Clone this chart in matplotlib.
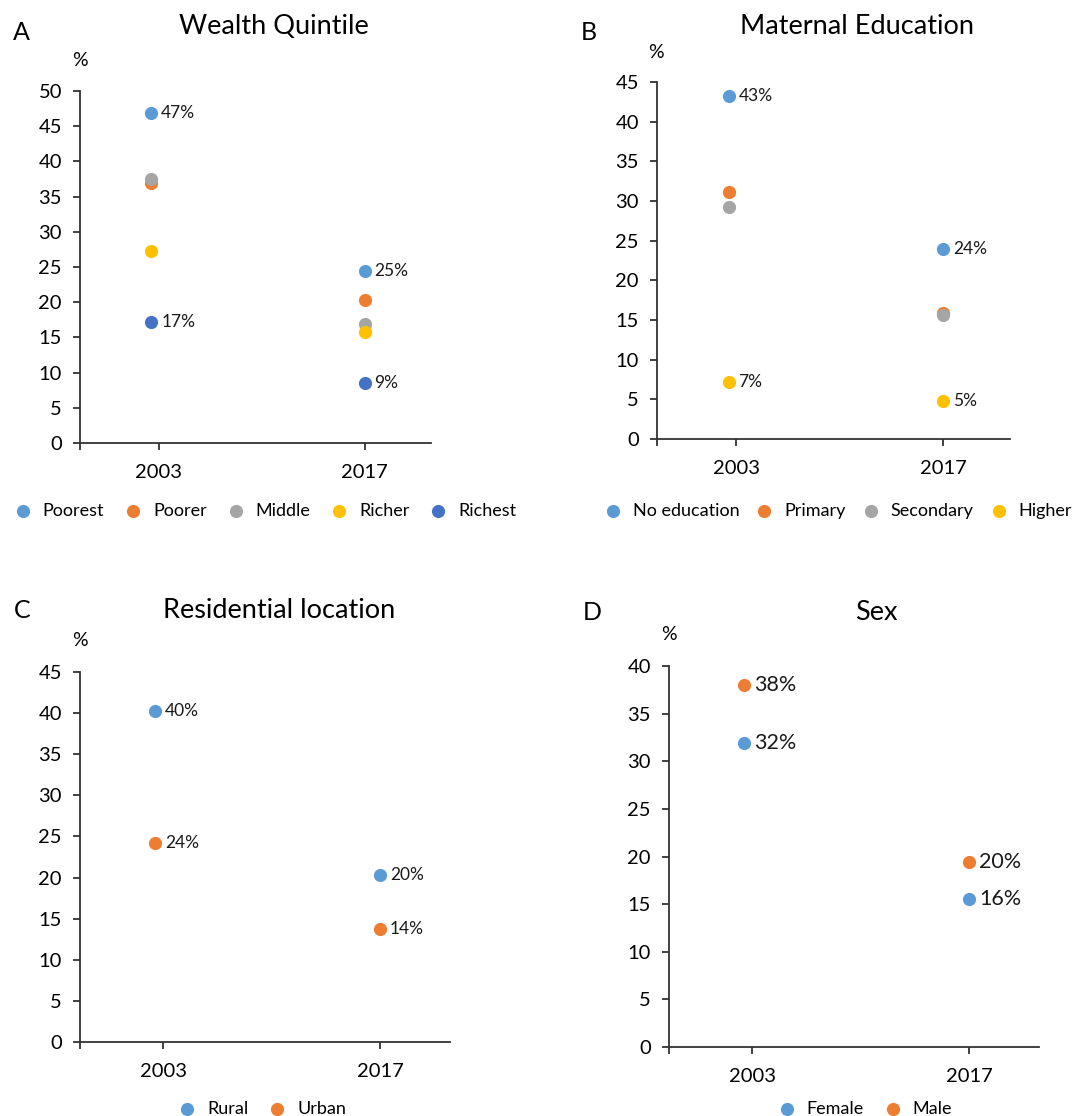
import matplotlib
matplotlib.use('Agg')
import matplotlib.pyplot as plt

plt.rcParams['font.family'] = ['Lato', 'DejaVu Sans']

W, H = 1072, 1116

years = ['2003', '2017']

# A - wealth quintile
wealth_groups = ['Poorest', 'Poorer', 'Middle', 'Richer', 'Richest']
wealth_2003 = [46.9, 37.0, 37.5, 27.3, 17.2]
wealth_2017 = [24.5, 20.35, 16.9, 15.75, 8.5]
wealth_lab_2003 = ['47%', '', '', '', '17%']
wealth_lab_2017 = ['25%', '', '', '', '9%']

# B - maternal education
edu_groups = ['No education', 'Primary', 'Secondary', 'Higher']
edu_2003 = [43.2, 31.1, 29.3, 7.2]
edu_2017 = [24.0, 15.9, 15.6, 4.8]
edu_lab_2003 = ['43%', '', '', '7%']
edu_lab_2017 = ['24%', '', '', '5%']

# C - residential location
loc_groups = ['Rural', 'Urban']
loc_2003 = [40.25, 24.25]
loc_2017 = [20.3, 13.8]
loc_lab_2003 = ['40%', '24%']
loc_lab_2017 = ['20%', '14%']

# D - sex
sex_groups = ['Female', 'Male']
sex_2003 = [31.9, 38.0]
sex_2017 = [15.5, 19.4]
sex_lab_2003 = ['32%', '38%']
sex_lab_2017 = ['16%', '20%']

blue = '#5B9BD5'
orange = '#ED7D31'
grey = '#A5A5A5'
gold = '#FFC000'
navy = '#4472C4'

fig = plt.figure(figsize=(W / 100, H / 100), dpi=100)


def fx(px):
    return px / W


def fy(py):
    return 1 - py / H


def panel(box, groups, v03, v17, lab03, lab17, colors, ymax, letter, letter_xy,
          title, title_xy, pct_xy, leg_xy, lab_size=12.5, colspace=1.1):
    l, t, r, b = box
    ax = fig.add_axes([fx(l), fy(b), fx(r - l), (b - t) / H])
    handles = []
    for g, a, c, col in zip(groups, v03, v17, colors):
        h = ax.scatter([0, 1], [a, c], s=90, color=col, zorder=3,
                       linewidths=0, label=g, clip_on=False)
        handles.append(h)
    for i in range(len(groups)):
        for xi, vals, labs in ((0, v03, lab03), (1, v17, lab17)):
            if labs[i]:
                ax.annotate(labs[i], (xi, vals[i]), xytext=(7, 0),
                            textcoords='offset points', va='center', ha='left',
                            fontsize=lab_size, color='#1a1a1a')
    ax.set_xlim(-0.335, 1.31)
    ax.set_ylim(0, ymax)
    ax.set_yticks(range(0, ymax + 1, 5))
    ax.set_xticks([-0.335, 0.035, 1])
    ax.set_xticklabels(['', years[0], years[1]])
    for s in ('top', 'right'):
        ax.spines[s].set_visible(False)
    for s in ('left', 'bottom'):
        ax.spines[s].set_color('#333333')
        ax.spines[s].set_linewidth(1.3)
    ax.tick_params(axis='y', direction='out', length=5, width=1.3,
                   color='#333333', labelsize=14.5, pad=8)
    ax.tick_params(axis='x', direction='out', length=5, width=1.3,
                   color='#333333', labelsize=14.5, pad=10)
    fig.text(fx(letter_xy[0]), fy(letter_xy[1]), letter, fontsize=18,
             ha='center', va='center')
    fig.text(fx(title_xy[0]), fy(title_xy[1]), title, fontsize=19.5,
             ha='center', va='center')
    fig.text(fx(pct_xy[0]), fy(pct_xy[1]), '%', fontsize=14,
             ha='center', va='center')
    fig.legend(handles, groups, loc='center',
               bbox_to_anchor=(fx(leg_xy[0]), fy(leg_xy[1])),
               ncol=len(groups), frameon=False, fontsize=13,
               handlelength=1.0, handletextpad=0.6, columnspacing=colspace,
               borderpad=0)
    return ax


panel((80, 91, 431, 443), wealth_groups, wealth_2003, wealth_2017,
      wealth_lab_2003, wealth_lab_2017, [blue, orange, grey, gold, navy], 50,
      'A', (21, 32), 'Wealth Quintile', (274, 27), (80, 60), (265, 511))

panel((657, 82, 1010, 439), edu_groups, edu_2003, edu_2017,
      edu_lab_2003, edu_lab_2017, [blue, orange, grey, gold], 45,
      'B', (589, 32), 'Maternal Education', (857, 27), (656, 52), (838, 511),
      colspace=0.9)

panel((80, 672, 450, 1042), loc_groups, loc_2003, loc_2017,
      loc_lab_2003, loc_lab_2017, [blue, orange], 45,
      'C', (22, 610), 'Residential location', (279, 610), (80, 641), (262, 1109))

panel((669, 666, 1039, 1047), sex_groups, sex_2003, sex_2017,
      sex_lab_2003, sex_lab_2017, [blue, orange], 40,
      'D', (592, 613), 'Sex', (876, 612), (669, 635), (865, 1109), lab_size=15.5)

fig.savefig('out.png', dpi=100)
